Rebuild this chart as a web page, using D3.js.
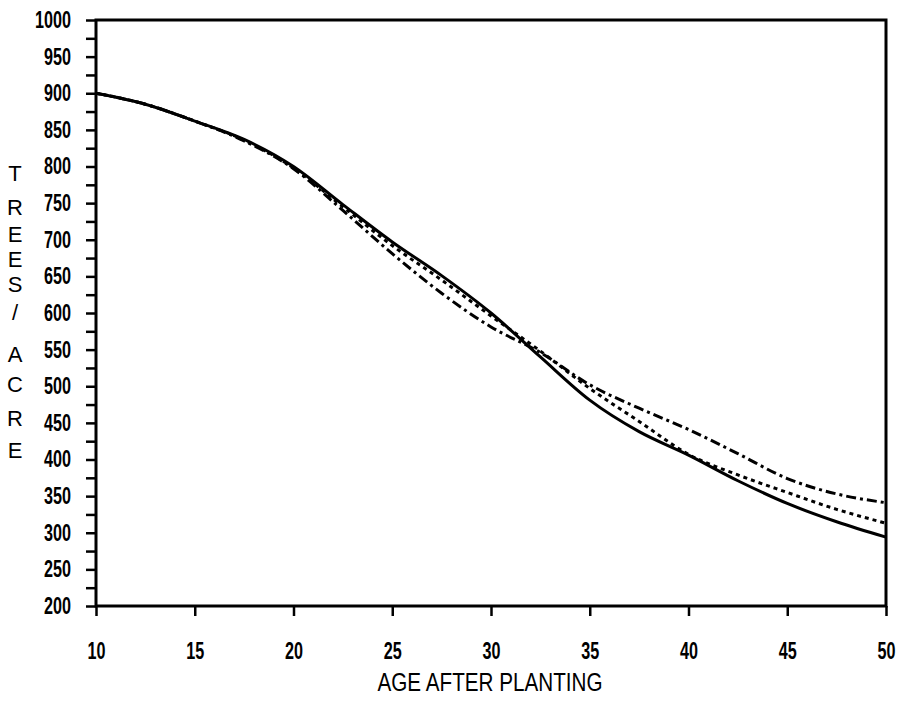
<!DOCTYPE html>
<html>
<head>
<meta charset="utf-8">
<script src="https://cdn.jsdelivr.net/npm/d3@7"></script>
<style>
  body { margin: 0; background: #fff; }
  svg { display: block; }
  .tick text { font-family: "Liberation Sans Narrow", "Liberation Sans", sans-serif; font-weight: bold; font-size: 23px; fill: #000; }
  .title { font-family: "Liberation Sans Narrow", "Liberation Sans", sans-serif; fill: #000; }
</style>
</head>
<body>
<div id="chart"></div>
<script>
// age after planting (x) and trees per acre for each curve
const ages    = [10, 12.5, 15, 17.5, 20, 22.5, 25, 27.5, 30, 32.5, 35, 37.5, 40, 42.5, 45, 47.5, 50];
const solid   = [900, 885, 862, 837, 800, 748, 697, 651, 600, 540, 481, 438, 406, 371, 340, 315, 294];
const dotted  = [900, 885, 862, 836, 798, 745, 692, 645, 596, 548, 497, 452, 407, 379, 355, 332, 313];
const dashDot = [900, 885, 862, 835, 797, 740, 681, 627, 581, 546, 502, 470, 441, 408, 374, 353, 341];

const xTicks = [10, 15, 20, 25, 30, 35, 40, 45, 50];
const yTicks = d3.range(200, 1001, 25);   // labels every 50, minor ticks at 25
const yTitle = ["T", "R", "E", "E", "S", "/", "A", "C", "R", "E"];

const width = 898, height = 701;
const plot = {left: 96, right: 886, top: 20, bottom: 606};
const digitWidth = 9;   // the original uses a condensed plotter font

const svg = d3.select("#chart").append("svg")
    .attr("width", width)
    .attr("height", height);

svg.append("rect").attr("width", width).attr("height", height).attr("fill", "#fff");

const x = d3.scaleLinear().domain([10, 50]).range([plot.left, plot.right]);
const y = d3.scaleLinear().domain([200, 1000]).range([plot.bottom, plot.top]);

// y axis
const yAxis = svg.append("g")
    .attr("transform", "translate(" + plot.left + ",0)")
    .call(d3.axisLeft(y)
        .tickValues(yTicks)
        .tickSize(10)
        .tickPadding(15)
        .tickFormat(d => d % 50 === 0 ? d : ""));

// x axis
const xAxis = svg.append("g")
    .attr("transform", "translate(0," + plot.bottom + ")")
    .call(d3.axisBottom(x)
        .tickValues(xTicks)
        .tickSize(10)
        .tickPadding(27));

[yAxis, xAxis].forEach(function(g) {
    g.select(".domain").remove();
    g.selectAll(".tick line").attr("stroke", "#000").attr("stroke-width", 2.5);
    g.selectAll(".tick text")
        .filter(function() { return this.textContent.length > 0; })
        .attr("textLength", function() { return this.textContent.length * digitWidth; })
        .attr("lengthAdjust", "spacingAndGlyphs");
});

// frame
svg.append("rect")
    .attr("x", plot.left)
    .attr("y", plot.top)
    .attr("width", plot.right - plot.left)
    .attr("height", plot.bottom - plot.top)
    .attr("fill", "none")
    .attr("stroke", "#000")
    .attr("stroke-width", 3);

const line = d3.line()
    .x((d, i) => x(ages[i]))
    .y(d => y(d))
    .curve(d3.curveMonotoneX);

const series = [
    {values: dashDot, dash: "10,4,3,4"},
    {values: dotted,  dash: "4,4"},
    {values: solid,   dash: null}
];

svg.selectAll("path.series")
    .data(series)
    .enter().append("path")
    .attr("class", "series")
    .attr("d", d => line(d.values))
    .attr("fill", "none")
    .attr("stroke", "#000")
    .attr("stroke-width", 3)
    .attr("stroke-dasharray", d => d.dash);

// axis titles
svg.append("text")
    .attr("class", "title")
    .attr("x", 490)
    .attr("y", 691)
    .attr("text-anchor", "middle")
    .attr("textLength", 225)
    .attr("lengthAdjust", "spacingAndGlyphs")
    .style("font-size", "25px")
    .text("AGE AFTER PLANTING");

const titleY = [173, 207, 234, 259, 284, 312, 354, 384, 418, 450];
svg.selectAll("text.ytitle")
    .data(yTitle)
    .enter().append("text")
    .attr("class", "title ytitle")
    .attr("x", 15)
    .attr("y", (d, i) => titleY[i])
    .attr("dy", "0.36em")
    .attr("text-anchor", "middle")
    .style("font-size", "22px")
    .text(d => d);
</script>
</body>
</html>
